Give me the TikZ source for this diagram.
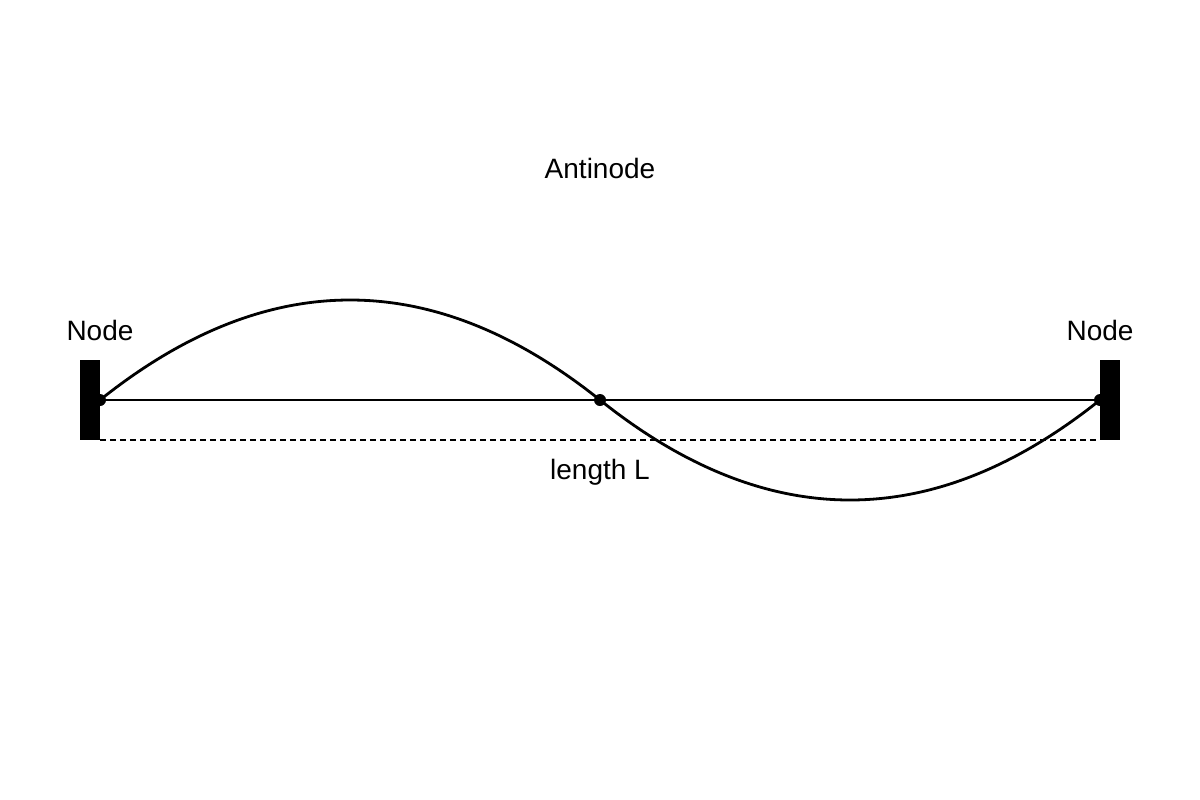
\documentclass[tikz,border=0pt]{standalone}
\usepackage{fontspec}
\setmainfont{Liberation Sans}
\begin{document}
\begin{tikzpicture}[x=0.75pt,y=-0.75pt,
  lbl/.style={font=\fontsize{21pt}{25pt}\selectfont, inner sep=0pt, anchor=base},
  wall/.style={fill=black, draw=none},
  string/.style={line width=2.1pt, black},
  dot/.style={circle, fill=black, inner sep=0pt, minimum size=9pt},
  guide/.style={line width=1.1pt, dash pattern=on 4.5pt off 3pt}]
\useasboundingbox (0,0) rectangle (1200,800);
\fill[white] (0,0) rectangle (1200,800);
% walls
\fill[wall] (80,360) rectangle (100,440);
\fill[wall] (1100,360) rectangle (1120,440);
% nodes (points)
\coordinate (L) at (100,400);
\coordinate (M) at (600,400);
\coordinate (R) at (1100,400);
\coordinate (dl) at (100,440);
\coordinate (dr) at (1100,440);
% equilibrium line
\draw[string] (L) -- (R);
% dashed length
\draw[guide] (dl) -- (dr);
% standing wave
\draw[string, line join=round] (L) .. controls (266.67,266.67) and (433.33,266.67) .. (M)
  .. controls (766.67,533.33) and (933.33,533.33) .. (R);
% dots
\node[dot] (pL) at (L) {};
\node[dot] (pM) at (M) {};
\node[dot] (pR) at (R) {};
% labels
\node[lbl] (anti) at (600,178) {Antinode};
\node[lbl] (nl) at (100,340) {Node};
\node[lbl] (nr) at (1100,340) {Node};
\node[lbl] (len) at (600,479) {length L};
\end{tikzpicture}
\end{document}
